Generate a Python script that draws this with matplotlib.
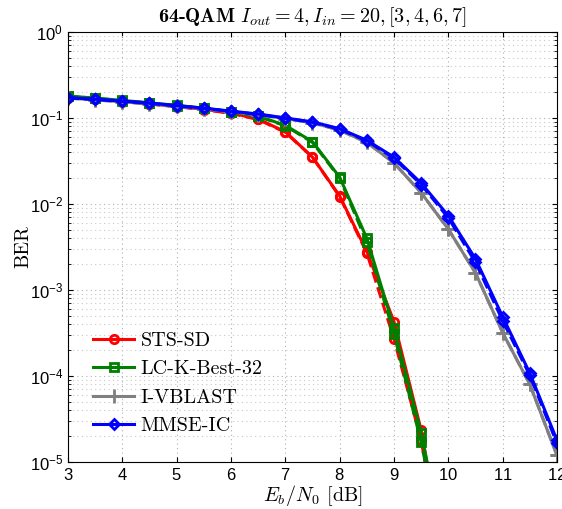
import matplotlib
matplotlib.use('Agg')
import matplotlib.pyplot as plt
from matplotlib.ticker import LogLocator, NullFormatter
import numpy as np

plt.rcParams['mathtext.fontset'] = 'cm'
plt.rcParams['axes.formatter.use_mathtext'] = True
plt.rcParams['font.family'] = ['Liberation Sans', 'DejaVu Sans']

# Eb/N0 grid [dB]
snr = [3, 3.5, 4, 4.5, 5, 5.5, 6, 6.5, 7, 7.5, 8, 8.5, 9, 9.5, 10, 10.5, 11, 11.5, 12]

# BER curves (solid = first run, dashed = second run); last points fall below 1e-5
sts_sd = [0.175, 0.166, 0.156, 0.146, 0.136, 0.126, 0.114, 0.097, 0.069, 0.035,
          0.0124, 0.0028, 4.3e-4, 2.35e-5, 4e-7]
sts_sd_2 = [0.172, 0.164, 0.155, 0.145, 0.135, 0.125, 0.113, 0.096, 0.068, 0.035,
            0.0122, 0.0027, 2.7e-4, 1.8e-5, 3e-7]
lc_kbest = [0.180, 0.170, 0.160, 0.150, 0.140, 0.130, 0.118, 0.105, 0.082, 0.053,
            0.0205, 0.0040, 3.6e-4, 2.2e-5, 6e-7]
lc_kbest_2 = [0.178, 0.169, 0.159, 0.149, 0.139, 0.129, 0.117, 0.104, 0.081, 0.052,
              0.0200, 0.0036, 3.1e-4, 1.7e-5, 5e-7]
i_vblast = [0.170, 0.162, 0.154, 0.146, 0.136, 0.128, 0.118, 0.109, 0.098, 0.088,
            0.072, 0.052, 0.030, 0.0135, 5.1e-3, 1.58e-3, 3.2e-4, 8.0e-5, 1.2e-5]
mmse_ic = [0.172, 0.165, 0.157, 0.149, 0.139, 0.130, 0.120, 0.111, 0.100, 0.090,
           0.075, 0.055, 0.035, 0.0175, 7.3e-3, 2.3e-3, 4.9e-4, 1.08e-4, 1.8e-5]
mmse_ic_2 = [0.171, 0.164, 0.156, 0.148, 0.138, 0.129, 0.119, 0.110, 0.099, 0.089,
             0.074, 0.054, 0.034, 0.0168, 6.9e-3, 2.1e-3, 4.4e-4, 1.02e-4, 1.65e-5]

fig = plt.figure(figsize=(5.62, 5.09), dpi=100)
ax = fig.add_axes([0.121, 0.0923, 0.870, 0.845])

lw = 2.2
ms = 6
series = [
    (sts_sd, sts_sd_2, 'red', 'o', 'STS-SD'),
    (lc_kbest, lc_kbest_2, 'green', 's', 'LC-K-Best-32'),
    (i_vblast, i_vblast, 'gray', '+', 'I-VBLAST'),
    (mmse_ic, mmse_ic_2, 'blue', 'D', 'MMSE-IC'),
]
for ber, ber2, c, m, name in series:
    x = snr[:len(ber)]
    mk = dict(marker=m, markersize=ms if m != 'D' else ms - 1, markeredgewidth=2,
              markerfacecolor='none', markeredgecolor=c)
    if m == '+':
        mk['markersize'] = 10
    ax.semilogy(x, ber2, color=c, lw=lw, ls='--', **mk)
    ax.semilogy(x, ber, color=c, lw=lw, label=name, **mk)

ax.set_xlim(3, 12)
ax.set_ylim(1e-5, 1)
ax.set_xticks(range(3, 13))
ax.yaxis.set_major_locator(LogLocator(base=10, numticks=10))
ax.yaxis.set_minor_locator(LogLocator(base=10, subs=np.arange(2, 10), numticks=20))
ax.yaxis.set_minor_formatter(NullFormatter())
ax.tick_params(labelsize=12, direction='in', which='both', top=True, right=True)
ax.grid(True, which='major', ls=(0, (1, 3)), color='#b0b0b0', lw=0.8)
ax.grid(True, which='minor', ls=(0, (1, 3)), color='#c8c8c8', lw=0.8)

ax.set_title(r'64-QAM $I_{out}=4, I_{in}=20, [3,4,6,7]$', fontsize=14.5,
             family='cmb10', pad=7)
ax.set_xlabel(r'$E_b/N_0$ [dB]', fontsize=14.5, family='cmr10', labelpad=0)
ax.set_ylabel('BER', fontsize=14.5, family='cmr10', labelpad=-2)

ax.legend(loc='lower left', bbox_to_anchor=(0.015, 0.02), frameon=False,
          prop={'family': 'cmr10', 'size': 14.5}, handlelength=2.0,
          labelspacing=0.52, handletextpad=0.35)

fig.savefig('out.png', dpi=100)
